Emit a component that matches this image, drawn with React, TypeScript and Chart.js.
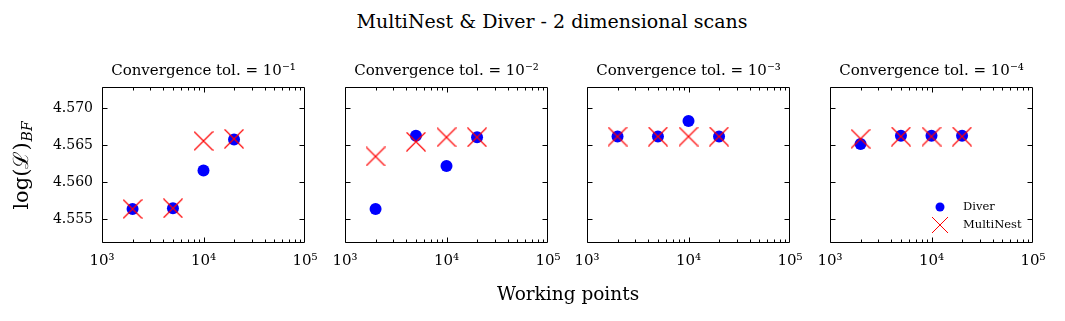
import React, { useEffect, useRef } from 'react';
import { Chart, registerables } from 'chart.js';

Chart.register(...registerables);

const workingPoints = [2000, 5000, 10000, 20000];
const tolerances = ['10⁻¹', '10⁻²', '10⁻³', '10⁻⁴'];
const diverTol1 = [4.5564, 4.5565, 4.5616, 4.5658];
const multinestTol1 = [4.5564, 4.5565, 4.5656, 4.5659];
const diverTol2 = [4.5564, 4.5663, 4.5622, 4.5661];
const multinestTol2 = [4.5635, 4.5655, 4.5661, 4.5661];
const diverTol3 = [4.5662, 4.5662, 4.5683, 4.5662];
const multinestTol3 = [4.5662, 4.5662, 4.5662, 4.5662];
const diverTol4 = [4.5652, 4.5663, 4.5663, 4.5663];
const multinestTol4 = [4.5659, 4.5662, 4.5662, 4.5662];
const diverSeries = [diverTol1, diverTol2, diverTol3, diverTol4];
const multinestSeries = [multinestTol1, multinestTol2, multinestTol3, multinestTol4];
const yTickValues = [4.555, 4.56, 4.565, 4.57];
const xTickValues = [1e3, 1e4, 1e5];
const xTickLabels = ['10³', '10⁴', '10⁵'];
const seriesNames = ['Diver', 'MultiNest'];

const FONT = '"DejaVu Serif", serif';
const PLOT_LEFTS = [102, 345, 587, 830];
const PLOT_W = 203;
const PLOT_TOP = 87;
const PLOT_BOTTOM = 243;
const CANVAS_H = 285;
const X_AXIS_H = 30;
const RIGHT_PAD = 28;

function makeCross(size: number, color: string): HTMLCanvasElement {
  const c = document.createElement('canvas');
  c.width = size;
  c.height = size;
  const g = c.getContext('2d')!;
  g.strokeStyle = color;
  g.lineWidth = 1.1;
  g.beginPath();
  g.moveTo(0.5, 0.5);
  g.lineTo(size - 0.5, size - 0.5);
  g.moveTo(0.5, size - 0.5);
  g.lineTo(size - 0.5, 0.5);
  g.stroke();
  return c;
}

const framePlugin = {
  id: 'framePlugin',
  afterDraw(chart: any, _args: any, opts: any) {
    const { ctx, chartArea: a, scales } = chart;
    const xs = scales.x;
    const ys = scales.y;
    const L = Math.round(a.left) + 0.5;
    const R = Math.round(a.right) - 0.5;
    const T = Math.round(a.top) + 0.5;
    const B = Math.round(a.bottom) - 0.5;
    ctx.save();
    ctx.strokeStyle = '#000';
    ctx.lineWidth = 1;
    ctx.beginPath();
    ctx.rect(L, T, R - L, B - T);
    ctx.stroke();
    const major = 5;
    const minor = 3;
    ctx.beginPath();
    for (let d = 1e3; d < 1e5; d *= 10) {
      for (let m = 1; m <= 9; m++) {
        const v = d * m;
        const px = Math.round(xs.getPixelForValue(v)) + 0.5;
        const len = m === 1 ? major : minor;
        ctx.moveTo(px, B);
        ctx.lineTo(px, B - len);
        ctx.moveTo(px, T);
        ctx.lineTo(px, T + len);
      }
    }
    for (const v of yTickValues) {
      const py = Math.round(ys.getPixelForValue(v)) + 0.5;
      ctx.moveTo(L, py);
      ctx.lineTo(L + major, py);
      ctx.moveTo(R, py);
      ctx.lineTo(R - major, py);
    }
    ctx.stroke();

    ctx.fillStyle = '#000';
    ctx.textAlign = 'center';
    ctx.textBaseline = 'middle';
    ctx.font = `15px ${FONT}`;
    ctx.fillText(opts.title, (a.left + a.right) / 2, 71);

    if (opts.legend) {
      const lx = a.right - 93;
      const row1 = a.bottom - 36;
      const row2 = a.bottom - 18;
      ctx.fillStyle = '#0000ff';
      ctx.beginPath();
      ctx.arc(lx, row1, 4.5, 0, Math.PI * 2);
      ctx.fill();
      ctx.strokeStyle = '#ff0000';
      ctx.lineWidth = 1;
      const r = 8;
      ctx.beginPath();
      ctx.moveTo(lx - r, row2 - r);
      ctx.lineTo(lx + r, row2 + r);
      ctx.moveTo(lx - r, row2 + r);
      ctx.lineTo(lx + r, row2 - r);
      ctx.stroke();
      ctx.fillStyle = '#000';
      ctx.textAlign = 'left';
      ctx.font = `11.5px ${FONT}`;
      ctx.fillText(opts.names[0], lx + 23, row1);
      ctx.fillText(opts.names[1], lx + 23, row2);
    }

    if (opts.yTitle) {
      ctx.save();
      ctx.translate(22, 166);
      ctx.rotate(-Math.PI / 2);
      ctx.fillStyle = '#000';
      ctx.textBaseline = 'alphabetic';
      ctx.textAlign = 'left';
      const mainFont = `21px ${FONT}`;
      const subFont = `italic 14px ${FONT}`;
      ctx.font = mainFont;
      const w1 = ctx.measureText(opts.yTitle[0]).width;
      ctx.font = subFont;
      const w2 = ctx.measureText(opts.yTitle[1]).width;
      const start = -(w1 + w2) / 2;
      ctx.font = mainFont;
      ctx.fillText(opts.yTitle[0], start, 6);
      ctx.font = subFont;
      ctx.fillText(opts.yTitle[1], start + w1 + 1, 10);
      ctx.restore();
    }
    ctx.restore();
  },
};

function Panel({ index }: { index: number }) {
  const ref = useRef<HTMLCanvasElement>(null);
  const first = index === 0;
  const W = first ? PLOT_LEFTS[0] : 60;
  const canvasLeft = PLOT_LEFTS[index] - W;
  const canvasW = W + PLOT_W + RIGHT_PAD;

  useEffect(() => {
    if (!ref.current) return;
    const cross = makeCross(20, '#ff0000');
    const chart = new Chart(ref.current, {
      type: 'scatter',
      data: {
        datasets: [
          {
            label: seriesNames[0],
            data: workingPoints.map((x, i) => ({ x, y: diverSeries[index][i] })),
            pointStyle: 'circle',
            pointRadius: 6,
            backgroundColor: '#0000ff',
            borderColor: '#0000ff',
            pointBackgroundColor: '#0000ff',
            pointBorderColor: '#0000ff',
            pointBorderWidth: 0,
            pointHoverRadius: 6,
            order: 1,
          },
          {
            label: seriesNames[1],
            data: workingPoints.map((x, i) => ({ x, y: multinestSeries[index][i] })),
            pointStyle: cross,
            pointRadius: 10,
            backgroundColor: '#ff0000',
            borderColor: '#ff0000',
            pointBorderColor: '#ff0000',
            pointBackgroundColor: '#ff0000',
            pointBorderWidth: 1,
            pointHoverRadius: 10,
            order: 0,
          },
        ],
      },
      options: {
        animation: false,
        responsive: false,
        events: [],
        layout: { padding: { left: 0, right: RIGHT_PAD, top: PLOT_TOP, bottom: CANVAS_H - PLOT_BOTTOM - X_AXIS_H } },
        plugins: {
          colors: { enabled: false },
          legend: { display: false },
          tooltip: { enabled: false },
          title: { display: false },
          framePlugin: {
            title: `Convergence tol. = ${tolerances[index]}`,
            legend: index === 3,
            names: seriesNames,
            yTitle: first ? ['log(ℒ)', 'BF'] : null,
          },
        } as any,
        scales: {
          x: {
            type: 'logarithmic',
            position: 'bottom',
            min: 1e3,
            max: 1e5,
            grid: { display: false, drawTicks: false },
            border: { display: false },
            afterBuildTicks: (s: any) => {
              s.ticks = xTickValues.map((v) => ({ value: v }));
            },
            afterFit: (s: any) => {
              s.height = X_AXIS_H;
            },
            ticks: {
              autoSkip: false,
              maxRotation: 0,
              padding: 9,
              color: '#000',
              font: { family: FONT, size: 15 },
              callback: (v: any) => {
                const i = xTickValues.indexOf(Number(v));
                return i >= 0 ? xTickLabels[i] : '';
              },
            },
          },
          y: {
            type: 'linear',
            position: 'left',
            min: 4.5518,
            max: 4.5729,
            grid: { display: false, drawTicks: false },
            border: { display: false },
            afterBuildTicks: (s: any) => {
              s.ticks = yTickValues.map((v) => ({ value: v }));
            },
            afterFit: (s: any) => {
              s.width = W;
            },
            ticks: {
              display: first,
              padding: 9,
              color: '#000',
              font: { family: FONT, size: 14 },
              callback: (v: any) => Number(v).toFixed(3),
            },
          },
        },
      },
      plugins: [framePlugin],
    } as any);
    return () => chart.destroy();
  }, [index]);

  return (
    <canvas
      ref={ref}
      width={canvasW}
      height={CANVAS_H}
      style={{ position: 'absolute', left: canvasLeft, top: 0, width: canvasW, height: CANVAS_H }}
    />
  );
}

export default function App() {
  return (
    <div style={{ position: 'absolute', left: 0, top: 0, width: 1065, height: 321, background: '#fff', overflow: 'hidden' }}>
      <div
        style={{
          position: 'absolute',
          left: 552 - 300,
          width: 600,
          top: 9,
          textAlign: 'center',
          fontFamily: FONT,
          fontSize: 19,
          lineHeight: '24px',
          color: '#000',
          whiteSpace: 'nowrap',
        }}
      >
        MultiNest &amp; Diver - 2 dimensional scans
      </div>
      {[0, 1, 2, 3].map((i) => (
        <Panel key={i} index={i} />
      ))}
      <div
        style={{
          position: 'absolute',
          left: 568 - 150,
          width: 300,
          top: 281,
          textAlign: 'center',
          fontFamily: FONT,
          fontSize: 18.5,
          lineHeight: '26px',
          color: '#000',
          whiteSpace: 'nowrap',
        }}
      >
        Working points
      </div>
    </div>
  );
}
